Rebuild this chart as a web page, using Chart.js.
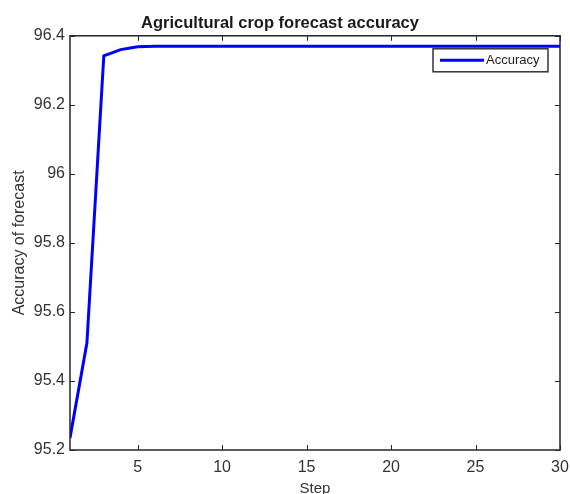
<!DOCTYPE html>
<html>
<head>
<meta charset="utf-8">
<script src="https://cdn.jsdelivr.net/npm/chart.js@4/dist/chart.umd.min.js"></script>
<style>
  html, body { margin: 0; padding: 0; background: #fff; }
  #wrap { width: 570px; height: 494px; }
</style>
</head>
<body>
<div id="wrap"><canvas id="c"></canvas></div>
<script>
const steps = [1, 2, 3, 4, 5, 6, 7, 8, 9, 10, 11, 12, 13, 14, 15, 16, 17, 18, 19, 20, 21, 22, 23, 24, 25, 26, 27, 28, 29, 30];
const accuracy = [95.235, 95.51, 96.342, 96.36, 96.368, 96.37, 96.37, 96.37, 96.37, 96.37,
  96.37, 96.37, 96.37, 96.37, 96.37, 96.37, 96.37, 96.37, 96.37, 96.37,
  96.37, 96.37, 96.37, 96.37, 96.37, 96.37, 96.37, 96.37, 96.37, 96.37];
const xTicks = [5, 10, 15, 20, 25, 30];
const yTicks = [95.2, 95.4, 95.6, 95.8, 96, 96.2, 96.4];

const FONT = "'Liberation Sans', Arial, sans-serif";
const AXIS_COLOR = '#333';

// matlab style box with inward ticks
const boxPlugin = {
  id: 'box',
  afterDatasetsDraw(chart) {
    const { ctx, chartArea: a, scales } = chart;
    ctx.save();
    ctx.strokeStyle = '#262626';
    ctx.lineWidth = 1.5;
    ctx.strokeRect(a.left, a.top, a.right - a.left, a.bottom - a.top);
    ctx.lineWidth = 1;
    ctx.beginPath();
    xTicks.forEach(v => {
      const x = Math.round(scales.x.getPixelForValue(v)) + 0.5;
      ctx.moveTo(x, a.bottom); ctx.lineTo(x, a.bottom - 5);
      ctx.moveTo(x, a.top); ctx.lineTo(x, a.top + 5);
    });
    yTicks.forEach(v => {
      const y = Math.round(scales.y.getPixelForValue(v)) + 0.5;
      ctx.moveTo(a.left, y); ctx.lineTo(a.left + 5, y);
      ctx.moveTo(a.right, y); ctx.lineTo(a.right - 5, y);
    });
    ctx.stroke();

    // legend box
    const ds = chart.data.datasets[0];
    const w = 115, h = 23;
    const bx = a.right - 12 - w, by = a.top + 13;
    ctx.fillStyle = '#fff';
    ctx.fillRect(bx, by, w, h);
    ctx.strokeStyle = '#333';
    ctx.lineWidth = 1.5;
    ctx.strokeRect(bx, by, w, h);
    ctx.strokeStyle = ds.borderColor;
    ctx.lineWidth = 3;
    ctx.beginPath();
    ctx.moveTo(bx + 7, by + h / 2);
    ctx.lineTo(bx + 51, by + h / 2);
    ctx.stroke();
    ctx.fillStyle = '#222';
    ctx.font = '13px ' + FONT;
    ctx.textBaseline = 'middle';
    ctx.fillText(ds.label, bx + 53, by + h / 2 + 0.5);
    ctx.restore();
  }
};

new Chart(document.getElementById('c'), {
  type: 'line',
  data: {
    datasets: [{
      label: 'Accuracy',
      data: steps.map((s, i) => ({ x: s, y: accuracy[i] })),
      borderColor: '#0000ff',
      borderWidth: 3,
      pointRadius: 0,
      tension: 0,
      fill: false
    }]
  },
  options: {
    responsive: true,
    maintainAspectRatio: false,
    animation: false,
    layout: { padding: { left: 0, right: 10, top: 0, bottom: 0 } },
    plugins: {
      legend: { display: false },
      tooltip: { enabled: false },
      title: {
        display: true,
        text: 'Agricultural crop forecast accuracy',
        color: '#1a1a1a',
        font: { family: FONT, size: 16.5, weight: 'bold' },
        padding: { top: 14, bottom: 2 }
      }
    },
    scales: {
      x: {
        type: 'linear',
        min: 1,
        max: 30,
        grid: { display: false, drawTicks: false },
        border: { display: false },
        afterBuildTicks: s => { s.ticks = xTicks.map(v => ({ value: v })); },
        afterFit: s => { s.height = 44; s.paddingRight = 0; s.paddingLeft = 0; },
        ticks: {
          color: AXIS_COLOR,
          padding: 8,
          maxRotation: 0,
          font: { family: FONT, size: 16 }
        },
        title: {
          display: true,
          text: 'Step',
          color: AXIS_COLOR,
          font: { family: FONT, size: 15 },
          padding: { top: 0, bottom: -4 }
        }
      },
      y: {
        min: 95.2,
        max: 96.4,
        grid: { display: false, drawTicks: false },
        border: { display: false },
        afterBuildTicks: s => { s.ticks = yTicks.map(v => ({ value: v })); },
        afterFit: s => { s.width = 70; s.paddingTop = 0; s.paddingBottom = 0; },
        ticks: {
          color: AXIS_COLOR,
          padding: 5,
          font: { family: FONT, size: 16 },
          callback: v => String(Number(v.toFixed(1)))
        },
        title: {
          display: true,
          text: 'Accuracy of forecast',
          color: AXIS_COLOR,
          font: { family: FONT, size: 16 },
          padding: { top: 10, bottom: 0 }
        }
      }
    }
  },
  plugins: [boxPlugin]
});
</script>
</body>
</html>
